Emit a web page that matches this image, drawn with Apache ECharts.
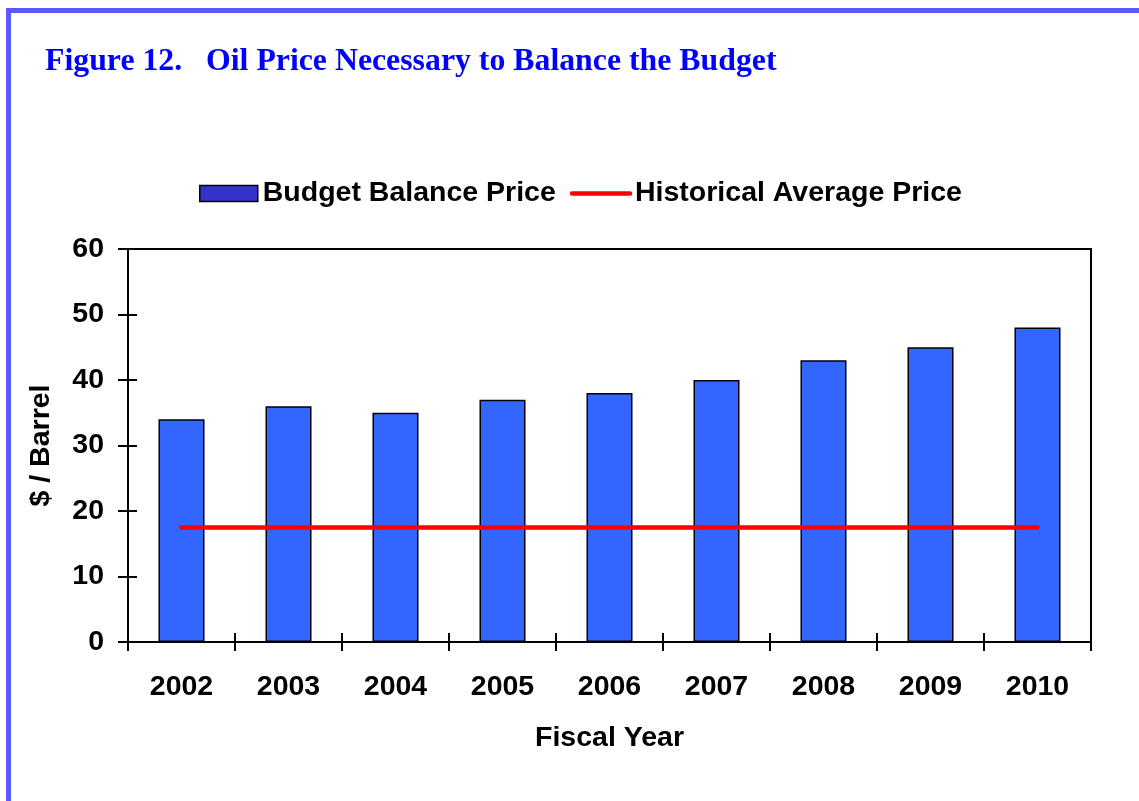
<!DOCTYPE html>
<html>
<head>
<meta charset="utf-8">
<script src="https://cdn.jsdelivr.net/npm/echarts@6/dist/echarts.min.js"></script>
<style>
	html, body { margin: 0; padding: 0; background: #fff; }
	#main { width: 1139px; height: 801px; }
</style>
</head>
<body>
<div id="main"></div>
<script>
var years = ['2002', '2003', '2004', '2005', '2006', '2007', '2008', '2009', '2010'];
var balancePrice = [34, 36, 35, 37, 38, 40, 43, 45, 48];
var historicalAvg = [17.5, 17.5, 17.5, 17.5, 17.5, 17.5, 17.5, 17.5, 17.5];
var yTicks = [0, 10, 20, 30, 40, 50, 60];

var labelFont = {
	color : '#000',
	fontFamily : 'Liberation Sans, Arial, sans-serif',
	fontWeight : 'bold',
	fontSize : 28.5
};
var tickStyle = { color : '#000', width : 2 };

var option = {
	backgroundColor : '#fff',
	animation : false,
	// blue frame, top and left
	graphic : [ {
		type : 'line',
		shape : { x1 : 8.5, y1 : 10.5, x2 : 1139, y2 : 10.5 },
		style : { stroke : '#5a5aff', lineWidth : 5 }
	}, {
		type : 'line',
		shape : { x1 : 8.5, y1 : 8, x2 : 8.5, y2 : 801 },
		style : { stroke : '#5a5aff', lineWidth : 5 }
	} ],
	title : {
		text : 'Figure 12.   Oil Price Necessary to Balance the Budget',
		left : 40,
		top : 41,
		textStyle : {
			color : '#0000ff',
			fontFamily : 'Liberation Serif, Times New Roman, serif',
			fontWeight : 'bold',
			fontSize : 31.8
		}
	},
	legend : {
		left : 194,
		top : 174,
		itemWidth : 58,
		itemHeight : 16,
		itemGap : 14,
		textStyle : {
			color : '#000',
			fontFamily : 'Liberation Sans, Arial, sans-serif',
			fontWeight : 'bold',
			fontSize : 28.5
		},
		data : [ {
			name : 'Budget Balance Price',
			icon : 'rect',
			itemStyle : { color : '#3333cc', borderColor : '#000', borderWidth : 1.5 }
		}, {
			name : 'Historical Average Price',
			itemStyle : { opacity : 0 },
			lineStyle : { color : '#ff0000', width : 4.5, cap : 'round' }
		} ]
	},
	grid : [ {
		left : 128,
		right : 48,
		top : 249,
		bottom : 159,
		show : true,
		borderColor : '#000',
		borderWidth : 2,
		backgroundColor : 'transparent'
	}, {
		// helper grid, 9px narrower on the left: its y ticks fall inside the main plot
		left : 137,
		right : 48,
		top : 249,
		bottom : 159
	}, {
		// helper grid, 9px shorter at the bottom: its x ticks fall inside the main plot
		left : 128,
		right : 48,
		top : 249,
		bottom : 168
	} ],
	xAxis : [ {
		type : 'category',
		data : years,
		name : 'Fiscal Year',
		nameLocation : 'middle',
		nameGap : 82,
		nameTextStyle : labelFont,
		axisLine : { lineStyle : { color : '#000', width : 2 } },
		axisTick : { show : true, length : 9, lineStyle : tickStyle },
		axisLabel : Object.assign({ margin : 31 }, labelFont)
	}, {
		gridIndex : 1,
		type : 'category',
		data : years,
		show : false
	}, {
		gridIndex : 2,
		type : 'category',
		data : years,
		axisLine : { show : false },
		axisTick : { show : true, length : 9, lineStyle : tickStyle },
		axisLabel : { show : false }
	} ],
	yAxis : [ {
		type : 'value',
		min : yTicks[0],
		max : yTicks[yTicks.length - 1],
		interval : 10,
		name : '$ / Barrel',
		nameLocation : 'middle',
		nameGap : 72,
		nameTextStyle : labelFont,
		splitLine : { show : false },
		axisLine : { show : true, lineStyle : { color : '#000', width : 2 } },
		axisTick : { show : true, length : 10, lineStyle : tickStyle },
		axisLabel : Object.assign({ margin : 24 }, labelFont)
	}, {
		gridIndex : 1,
		type : 'value',
		min : yTicks[0],
		max : yTicks[yTicks.length - 1],
		interval : 10,
		splitLine : { show : false },
		axisLine : { show : false },
		axisTick : { show : true, length : 9, lineStyle : tickStyle },
		axisLabel : { show : false }
	}, {
		gridIndex : 2,
		type : 'value',
		min : yTicks[0],
		max : yTicks[yTicks.length - 1],
		interval : 10,
		show : false
	} ],
	series : [ {
		name : 'Budget Balance Price',
		type : 'bar',
		barWidth : '43%',
		itemStyle : {
			color : '#3366ff',
			borderColor : '#000',
			borderWidth : 1.5
		},
		data : balancePrice
	}, {
		name : 'Historical Average Price',
		type : 'line',
		showSymbol : false,
		symbol : 'none',
		lineStyle : { color : '#ff0000', width : 4.5, cap : 'round' },
		itemStyle : { color : '#ff0000' },
		data : historicalAvg
	} ]
};

var myChart = echarts.init(document.getElementById('main'));
myChart.setOption(option);
</script>
</body>
</html>
